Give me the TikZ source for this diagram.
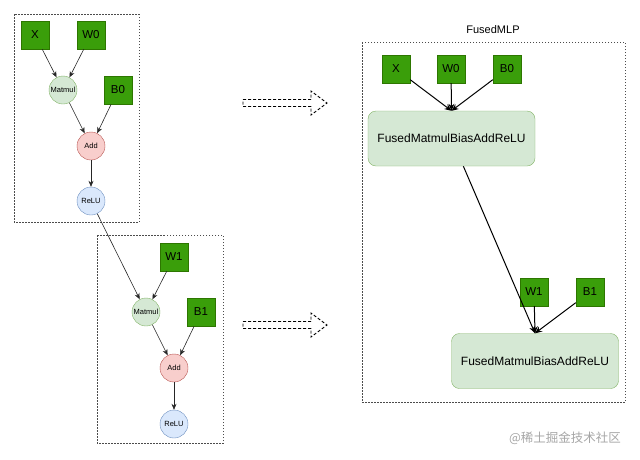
\documentclass[tikz,border=0pt]{standalone}
\usepackage{fontspec}
\setmainfont{Liberation Sans}
\newfontfamily\cjk{Noto Sans CJK SC}
\usepackage{xcolor}
\usetikzlibrary{arrows.meta,positioning,calc,shapes.arrows}

\definecolor{wgreen}{HTML}{3A9E0A}
\definecolor{wgreenline}{HTML}{2D7600}
\definecolor{mmfill}{HTML}{D5E8D4}
\definecolor{mmline}{HTML}{82B366}
\definecolor{addfill}{HTML}{F8CECC}
\definecolor{addline}{HTML}{B85450}
\definecolor{relufill}{HTML}{DAE8FC}
\definecolor{reluline}{HTML}{6C8EBF}

\begin{document}
\begin{tikzpicture}[
    x=1pt, y=-1pt,
    weight/.style={rectangle, draw=wgreenline, fill=wgreen, minimum size=28pt, inner sep=0pt, font=\fontsize{11.5}{12}\selectfont},
    op/.style={circle, draw, minimum size=28pt, inner sep=0pt, font=\fontsize{7.5}{8}\selectfont},
    matmul/.style={op, draw=mmline, fill=mmfill},
    addop/.style={op, draw=addline, fill=addfill},
    relu/.style={op, draw=reluline, fill=relufill},
    fused/.style={rectangle, draw=mmline, fill=mmfill, rounded corners=8pt, minimum width=167pt, minimum height=55pt, font=\fontsize{12}{14}\selectfont},
    group/.style={draw=black!70, line width=0.7pt, dash pattern=on 1.5pt off 1.5pt},
    bigarrow/.style={draw=black, line width=0.9pt, dash pattern=on 3pt off 2pt},
    arrow/.style={-{Stealth[length=6pt,width=5pt]}, black!85, line width=0.6pt},
    farrow/.style={-{Stealth[length=7pt,width=6pt]}, black, line width=1pt}
]
    \useasboundingbox (0,0) rectangle (640,459);

    % Layer 0
    \draw[group] (14,14) rectangle (139,222);
    \node[weight] (x0) at (35,35) {X};
    \node[weight] (w0) at (91,35) {W0};
    \node[matmul] (mm0) at (63,90) {Matmul};
    \node[weight] (b0) at (118,90) {B0};
    \node[addop] (add0) at (91,146) {Add};
    \node[relu] (relu0) at (91,201) {ReLU};

    \draw[arrow] (x0) -- (mm0);
    \draw[arrow] (w0) -- (mm0);
    \draw[arrow] (mm0) -- (add0);
    \draw[arrow] (b0) -- (add0);
    \draw[arrow] (add0) -- (relu0);

    % Layer 1
    \draw[group] (97,235) rectangle (223,443);
    \node[weight] (w1) at (174,257) {W1};
    \node[matmul] (mm1) at (146,312) {Matmul};
    \node[weight] (b1) at (201,312) {B1};
    \node[addop] (add1) at (174,368) {Add};
    \node[relu] (relu1) at (174,424) {ReLU};

    \draw[arrow] (relu0) -- (mm1);
    \draw[arrow] (w1) -- (mm1);
    \draw[arrow] (mm1) -- (add1);
    \draw[arrow] (b1) -- (add1);
    \draw[arrow] (add1) -- (relu1);

    % Fusion arrows
    \foreach \ay/\name in {103/fuse0, 325/fuse1} {
        \coordinate (\name) at (285,\ay);
        \draw[bigarrow] ($(\name)+(-42,-3.5)$) -- ++(68,0) -- ++(0,-8.5) -- ++(16,12) -- ++(-16,12)
            -- ++(0,-8.5) -- ++(-68,0) -- cycle;
    }

    % FusedMLP
    \draw[group] (362,42) rectangle (625,402);
    \node[font=\fontsize{11}{12}\selectfont] (title) at (493,30) {FusedMLP};
    \node[weight] (fx0) at (396,69) {X};
    \node[weight] (fw0) at (451,69) {W0};
    \node[weight] (fb0) at (507,69) {B0};
    \node[fused] (f0) at (451.5,138.5) {FusedMatmulBiasAddReLU};
    \node[weight] (fw1) at (534,292) {W1};
    \node[weight] (fb1) at (590,292) {B1};
    \node[fused] (f1) at (535,361) {FusedMatmulBiasAddReLU};

    \draw[farrow] (fx0) -- (f0.north);
    \draw[farrow] (fw0) -- (f0.north);
    \draw[farrow] (fb0) -- (f0.north);
    \draw[farrow] (f0) -- (f1.north);
    \draw[farrow] (fw1) -- (f1.north);
    \draw[farrow] (fb1) -- (f1.north);

    % Watermark
    \node[text=black!35, font=\cjk\fontsize{12.5}{13}\selectfont] (mark) at (565,438) {@稀土掘金技术社区};

\end{tikzpicture}
\end{document}
